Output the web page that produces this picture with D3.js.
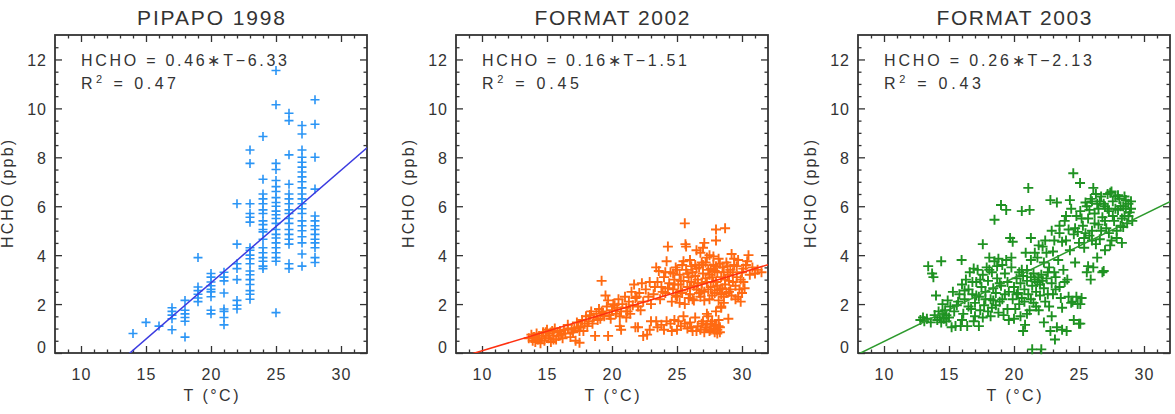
<!DOCTYPE html>
<html>
<head>
<meta charset="utf-8">
<script src="https://cdn.jsdelivr.net/npm/d3@7"></script>
<style>
  body { margin: 0; background: #fff; }
  text { font-family: "Liberation Sans", Arial, sans-serif; fill: #333; }
</style>
</head>
<body>
<svg id="chart" width="1175" height="414"></svg>
<script>
"use strict"

// ---- data ----
const titles = ["PIPAPO  1998", "FORMAT  2002", "FORMAT  2003"];
const slopes = [0.46, 0.16, 0.26];
const intercepts = [-6.33, -1.51, -2.13];
const rSquared = ["0.47", "0.45", "0.43"];
const xTicks = [10, 15, 20, 25, 30];
const yTicks = [0, 2, 4, 6, 8, 10, 12];
const markerColors = ["#2b95f5", "#ff6a12", "#1f9222"];
const lineColors = ["#3b3be0", "#ff3010", "#2d9a2d"];

// PIPAPO 1998: temperatures are whole degrees, one column of HCHO values per degree
const pipapoTemps = [14, 15, 16, 17, 18, 19, 20, 21, 22, 23, 24, 25, 26, 27, 28];
const pipapoHcho = [
  [0.8],
  [1.25],
  [1.1],
  [1.85, 1.7, 1.55, 1.4, 0.95],
  [2.15, 1.75, 1.6, 1.45, 1.3, 0.65],
  [3.9, 2.7, 2.55, 2.4, 2.25, 2.1],
  [3.25, 3.1, 2.9, 2.75, 2.6, 2.5, 2.3, 1.75, 1.6],
  [3.3, 3.1, 2.95, 2.45, 1.8, 1.7, 1.45, 1.15],
  [6.1, 4.45, 3.65, 3.45, 3.0, 2.15, 1.95, 1.8],
  [8.3, 7.75, 6.1, 5.7, 5.55, 5.35, 4.3, 4.2, 4.0, 3.85, 3.65, 3.35, 3.2, 3.0, 2.8, 2.55, 2.4, 2.2],
  [8.85, 7.1, 6.5, 6.3, 6.1, 5.85, 5.7, 5.4, 5.25, 5.05, 4.95, 4.65, 4.3, 4.1, 3.9, 3.75, 3.55, 3.45],
  [11.55, 10.15, 7.75, 7.5, 7.05, 6.8, 6.6, 6.35, 6.15, 6.0, 5.8, 5.65, 5.5, 5.3, 5.05, 4.85, 4.7, 4.5, 4.3, 4.1, 3.9, 3.75, 1.65],
  [9.8, 9.5, 8.1, 6.9, 6.5, 6.3, 6.1, 5.85, 5.7, 5.5, 5.3, 5.05, 4.85, 4.65, 4.45, 3.65, 3.45],
  [9.3, 8.95, 8.3, 8.0, 7.8, 7.6, 7.4, 7.2, 7.0, 6.75, 6.5, 6.3, 6.1, 5.9, 5.7, 5.4, 5.2, 5.0, 4.75, 4.5, 4.05, 3.55],
  [10.35, 9.35, 8.0, 6.7, 5.6, 5.4, 5.2, 5.05, 4.85, 4.65, 4.5, 4.3, 3.9, 3.7]
];

// FORMAT 2002: [T, HCHO]
const format2002 = [
  [13.6,0.6],[13.8,0.75],[13.9,0.5],[14.0,0.65],[14.1,0.45],[14.2,0.8],[14.3,0.55],[14.4,0.7],[14.5,0.4],[14.6,0.6],
  [14.7,0.85],[14.8,0.5],[14.9,0.7],[15.0,0.95],[15.1,0.6],[15.2,0.8],[15.3,0.45],[15.4,0.9],[15.5,0.7],[15.6,1.0],
  [15.7,0.55],[15.8,0.85],[15.9,0.7],[16.0,0.9],[16.2,0.6],[16.4,0.8],[16.6,1.0],[16.8,0.65],[17.0,0.85],[17.2,0.5],
  [17.4,1.05],[17.5,0.42],[17.8,0.9],[17.9,1.2],[16.3,0.95],[16.6,1.15],[17.1,1.0],[17.3,1.25],[17.5,0.9],[17.7,1.35],
  [18.1,1.1],[18.3,1.55],[18.5,1.2],[18.9,1.35],[19.2,1.7],[19.4,1.5],[19.9,1.4],[20.2,1.95],[20.6,1.5],[21.2,1.7],
  [21.9,2.3],[22.2,1.75],[14.2,0.6],[14.9,0.85],[15.5,0.55],[16.1,0.75],[16.9,0.95],[17.6,1.1],
  [18.0,1.5],[18.2,1.3],[18.4,1.7],[18.6,1.45],[18.8,1.6],[19.0,1.8],[19.1,1.4],[19.2,2.95],[19.3,1.65],[19.5,2.35],
  [19.6,1.9],[19.7,2.15],[19.8,1.55],[20.0,1.75],[20.1,2.0],[20.3,1.6],[20.4,1.85],[20.5,2.2],[20.7,1.7],[20.8,2.0],
  [21.0,2.3],[21.1,1.85],[21.3,2.1],[21.4,1.6],[21.5,2.5],[21.6,1.95],[21.7,2.8],[21.8,2.25],[22.0,1.9],[22.1,2.45],
  [22.3,2.85],[22.4,2.1],[22.6,2.6],[22.8,2.3],[23.0,2.0],
  [19.7,0.7],[18.7,0.7],[21.1,1.45],[20.6,1.1],[20.7,0.95],[21.8,1.05],[22.0,1.05],[22.4,0.7],[22.7,0.75],[23.8,1.15],
  [23.2,2.4],[23.4,3.5],[23.5,2.9],[23.6,3.35],[23.7,2.2],[23.8,2.7],[24.0,3.1],[24.1,2.45],[24.2,3.75],[24.3,4.35],
  [24.4,2.85],[24.5,3.3],[24.6,2.1],[24.7,2.6],[24.8,3.0],[24.9,3.5],[22.9,2.9],[23.3,2.7],[23.9,2.5],[24.1,3.3],
  [24.3,2.65],[24.8,2.8],
  [25.0,2.3],[25.1,2.8],[25.2,3.2],[25.3,2.55],[25.4,3.6],[25.5,2.95],[25.6,5.3],[25.65,4.45],[25.7,4.35],[25.6,2.0],
  [25.7,3.4],[25.8,2.7],[25.9,3.1],[26.0,2.4],[26.0,3.8],[26.1,2.9],[26.2,3.3],[26.3,2.15],[26.4,3.6],[26.5,4.2],
  [26.5,2.6],[26.6,3.0],[26.7,3.5],[26.8,4.1],[26.8,2.3],[26.9,2.85],
  [27.0,3.25],[27.0,4.3],[27.1,4.5],[27.1,2.5],[27.2,3.7],[27.3,2.9],[27.4,3.4],[27.5,2.2],[27.5,4.0],[27.6,2.7],
  [27.7,3.1],[27.8,3.6],[27.9,2.45],[28.0,4.6],[28.0,5.05],[28.0,2.9],[28.1,3.3],[28.2,3.85],[28.3,2.6],[28.4,1.85],
  [28.4,3.1],[28.5,3.5],[28.6,2.3],[28.7,5.1],[28.7,2.8],[28.8,3.7],[28.9,3.2],[28.95,1.4],
  [29.0,2.5],[29.1,3.4],[29.2,4.05],[29.3,2.9],[29.4,3.6],[29.5,2.2],[29.6,3.1],[29.7,3.8],[29.8,2.6],[29.9,2.1],
  [30.0,3.3],[30.1,2.9],[30.3,3.6],[30.4,3.75],[30.5,4.0],[30.6,3.2],[30.8,3.5],[31.0,3.25],[31.2,3.4],[31.5,3.3],
  [25.2,2.05],[25.4,2.45],[25.5,3.75],[25.9,2.25],[26.1,3.55],[26.3,2.75],[26.4,3.15],[26.7,2.45],[26.9,3.7],[27.1,2.15],
  [27.2,3.05],[27.3,3.9],[27.4,2.6],[27.6,3.45],[27.7,2.35],[27.8,2.9],[28.0,3.55],[28.1,2.55],[28.2,2.15],[28.3,3.65],
  [28.5,2.65],[28.6,3.3],[28.8,2.45],[28.9,3.55],[29.0,2.95],[29.2,2.35],[29.3,3.3],[29.5,2.75],[29.6,3.55],[29.7,2.3],
  [29.9,3.0],[30.1,3.45],[30.2,2.65],[24.7,3.25],[24.9,2.35],[25.0,3.4],[25.3,2.95],[25.8,3.25],[26.0,2.7],[26.2,2.2],
  [26.5,3.45],[26.6,2.85],[26.9,2.55],[27.0,3.6],[27.5,3.2],[27.8,3.95],[27.9,3.35],[28.1,2.75],[28.4,2.4],[28.6,2.05],
  [28.7,3.0],[29.1,2.6],[29.4,3.85],[30.0,2.45],
  [23.0,1.3],[23.5,1.05],[24.0,0.95],[24.5,1.2],[24.8,1.35],[25.0,0.95],[25.3,1.1],[25.5,1.5],[25.8,1.0],[26.0,1.25],
  [26.2,0.9],[26.4,1.45],[26.6,1.1],[26.8,0.95],[27.0,1.3],[27.2,1.05],[27.4,1.5],[27.5,0.9],[27.6,1.2],[27.8,1.0],
  [27.9,0.85],[28.0,1.15],[28.1,0.95],[28.2,1.35],[28.3,1.05],[28.4,1.9],[28.0,1.7],[27.3,1.6],
  [26.9,1.2],[27.1,0.85],[27.3,1.15],[27.6,0.95],[27.7,1.3],[27.9,1.1],[28.1,0.8],[28.2,1.1],[28.3,0.85],[26.5,0.9],
  [26.1,1.05],[25.6,1.2],[25.1,1.3],[24.6,0.9],[24.2,1.3],[23.4,1.3],[22.9,0.95]
];

// FORMAT 2003: [T, HCHO]
const format2003 = [
  [12.8,1.35],[13.0,1.45],[13.1,1.3],[13.3,1.4],[13.4,3.55],[13.7,3.25],[13.8,3.1],[13.6,1.25],[13.9,1.55],[14.0,2.35],
  [14.1,1.35],[14.2,1.7],[14.3,1.45],[14.4,3.75],[14.4,1.25],[14.5,1.6],[14.5,2.0],[14.6,1.4],[14.7,1.75],[14.8,1.3],
  [14.8,1.55],[14.9,2.15],[15.0,1.45],[15.1,1.9],[15.2,1.05],[15.3,2.5],[15.5,1.1],[15.6,1.95],[15.8,2.4],[15.9,1.1],
  [15.97,3.8],
  [16.0,2.8],[16.1,1.6],[16.2,2.2],[16.3,3.0],[16.4,1.1],[16.5,2.6],[16.6,3.3],[16.7,1.8],[16.8,2.4],[16.9,3.45],
  [17.0,2.05],[17.0,1.5],[17.1,2.9],[17.2,3.4],[17.3,1.1],[17.3,2.3],[17.4,1.75],[17.5,2.7],[17.6,4.45],[17.6,3.2],
  [17.7,1.95],[17.8,2.5],[17.9,3.5],[18.0,1.7],[18.0,2.95],[18.1,3.9],[18.2,2.2],[18.3,1.85],[18.3,3.3],[18.4,2.65],
  [18.5,5.45],[18.5,3.75],[18.6,1.95],[18.6,2.45],[18.7,3.05],[18.8,3.85],[18.9,2.1],[19.0,6.05],[19.0,2.75],[19.1,3.6],
  [19.2,1.55],[19.3,2.4],[19.4,5.85],[19.4,3.8],[19.5,2.9],[19.6,1.35],[19.7,4.7],[19.8,3.9],[19.9,2.2],[19.9,4.55],
  [15.4,1.7],[15.7,2.1],[16.0,1.35],[16.2,2.55],[16.5,1.9],[16.8,2.9],[16.9,1.3],[17.1,2.35],[17.4,3.0],[17.6,1.45],
  [17.8,2.2],[18.1,3.4],[18.2,1.5],[18.4,2.15],[18.7,3.55],[18.8,1.65],[18.9,2.85],[19.1,2.2],[19.3,3.25],[19.5,1.8],
  [19.6,2.5],[19.8,3.5],[20.0,1.4],[20.2,2.4],[20.4,2.0],[20.6,3.4],[20.8,2.1],[21.0,1.6],[21.0,3.4],[21.3,2.2],
  [21.5,3.25],[21.7,1.9],[21.9,3.1],[22.0,2.35],[22.2,2.95],[22.4,2.1],[22.6,3.3],[22.7,1.9],[23.0,2.4],[23.2,3.1],
  [23.5,2.7],[23.7,1.85],[23.9,2.9],[24.2,2.3],[24.4,2.05],[24.8,2.3],[25.0,1.2],[25.1,2.0],
  [20.0,2.7],[20.1,1.8],[20.2,3.05],[20.3,2.45],[20.4,3.3],[20.5,1.5],[20.5,2.85],[20.6,5.8],[20.6,2.25],[20.7,0.9],
  [20.7,3.15],[20.8,2.6],[20.85,1.15],[20.9,4.1],[21.0,2.95],[21.1,6.75],[21.1,2.4],[21.2,5.85],[21.2,1.75],[21.3,3.1],
  [21.3,4.7],[21.4,0.15],[21.4,2.75],[21.5,2.05],[21.6,3.0],[21.7,2.5],[21.8,2.9],[21.8,3.9],[21.9,1.75],[22.0,2.8],
  [22.1,0.15],[22.1,3.2],[22.2,4.35],[22.3,1.25],[22.3,2.65],[22.4,4.6],[22.5,3.05],[22.6,2.4],[22.7,3.5],[22.8,6.25],
  [22.8,0.9],[22.9,1.5],[22.9,2.85],[23.0,4.15],[23.1,3.3],[23.15,0.55],[23.2,2.6],[23.3,6.15],[23.3,1.05],[23.4,3.8],
  [23.5,4.9],[23.6,2.25],[23.7,0.95],[23.8,3.4],[23.9,5.4],
  [24.0,4.6],[24.05,0.9],[24.1,3.0],[24.2,5.05],[24.3,4.2],[24.4,5.9],[24.5,2.1],[24.56,7.35],[24.6,1.35],[24.6,4.85],
  [24.7,3.7],[24.8,5.6],[24.9,2.0],[25.0,4.5],[25.08,6.95],[25.1,1.2],[25.1,5.8],[25.2,2.25],[25.3,5.2],[25.4,4.3],
  [25.5,6.15],[25.6,3.3],[25.7,3.55],[25.7,5.5],[25.8,4.8],[25.9,6.3],[26.0,5.0],[26.1,6.75],[26.1,3.5],[26.2,5.7],
  [26.3,4.45],[26.4,6.1],[26.5,5.25],[26.6,4.65],[26.7,6.4],[26.8,3.3],[26.8,5.55],[26.9,3.35],[27.0,6.0],[27.0,4.2],
  [27.1,5.1],[27.2,6.5],[27.3,5.8],[27.4,6.55],[27.5,4.6],[27.6,6.2],[27.7,5.4],[27.8,6.4],[27.9,5.0],[28.0,5.85],
  [28.1,6.3],[28.2,5.2],[28.3,4.5],[28.4,6.0],[28.5,5.6],[28.6,6.25],[28.7,5.3],[28.8,6.1],[28.9,5.75],[29.0,6.2],
  [29.1,5.4],
  [24.9,4.95],[25.2,5.5],[25.4,4.7],[25.6,6.0],[25.8,5.85],[26.0,4.6],[26.0,6.2],[26.2,5.3],[26.3,6.5],[26.5,5.9],
  [26.6,6.2],[26.7,5.0],[26.9,6.1],[27.0,5.4],[27.2,5.9],[27.3,4.9],[27.5,6.6],[27.6,5.6],[27.8,5.9],[28.0,6.45],
  [28.2,6.0],[28.3,5.5],[28.5,6.4],[28.6,5.9],[28.8,5.6],[29.0,5.9],[28.4,5.15],[27.9,4.7],[27.4,4.4],[26.4,3.9],
  [25.9,3.0],[25.5,4.9],[24.7,5.1],[24.3,6.25],[24.0,5.6],[23.7,4.55],[23.5,5.2],[23.1,4.6],[22.9,5.0],[22.5,4.1],
  [22.3,3.7],[21.9,4.4],[21.6,4.1],[21.3,3.8]
];

// ---- layout ----
const panelLeft = [55, 456, 858];
const panelWidth = 312;
const plotTop = 35;
const plotBottom = 353;
const xDomain = [8, 32];
const yDomain = [0, 13];
const titleWidths = [148, 155, 155];
const eqWidths = [206, 205, 208];
const r2Widths = [95, 97, 97];

const pipapo = [];
pipapoTemps.forEach((t, i) => pipapoHcho[i].forEach(h => pipapo.push([t, h])));
const datasets = [pipapo, format2002, format2003];

const svg = d3.select("#chart");
const axisColor = "#333";

function styleAxis(sel) {
    sel.select(".domain").remove();
    sel.selectAll("line").attr("stroke", axisColor).attr("stroke-width", 1.3);
}

datasets.forEach((points, i) => {
    const left = panelLeft[i];
    const x = d3.scaleLinear().domain(xDomain).range([left, left + panelWidth]);
    const y = d3.scaleLinear().domain(yDomain).range([plotBottom, plotTop]);
    const g = svg.append("g");

    // clip for the fit line
    const clipId = "clip" + i;
    svg.append("clipPath").attr("id", clipId)
        .append("rect")
        .attr("x", left).attr("y", plotTop)
        .attr("width", panelWidth).attr("height", plotBottom - plotTop);

    // minor ticks, all four sides, pointing inward
    const minorX = d3.range(9, 32, 1).filter(v => v % 5 !== 0);
    const minorY = d3.range(0.5, 13, 0.5).filter(v => v % 2 !== 0);

    g.append("g").attr("transform", `translate(0,${plotBottom})`)
        .call(d3.axisBottom(x).tickValues(minorX).tickSize(-3.5).tickFormat(""))
        .call(styleAxis);
    g.append("g").attr("transform", `translate(0,${plotTop})`)
        .call(d3.axisTop(x).tickValues(minorX).tickSize(-3.5).tickFormat(""))
        .call(styleAxis);
    g.append("g").attr("transform", `translate(${left},0)`)
        .call(d3.axisLeft(y).tickValues(minorY).tickSize(-3.5).tickFormat(""))
        .call(styleAxis);
    g.append("g").attr("transform", `translate(${left + panelWidth},0)`)
        .call(d3.axisRight(y).tickValues(minorY).tickSize(-3.5).tickFormat(""))
        .call(styleAxis);

    // major ticks
    const bottomAxis = g.append("g").attr("transform", `translate(0,${plotBottom})`)
        .call(d3.axisBottom(x).tickValues(xTicks).tickSize(-7).tickPadding(0))
        .call(styleAxis);
    bottomAxis.selectAll("text")
        .attr("y", 27).attr("dy", null)
        .attr("fill", "#333")
        .style("font-size", "16px").style("letter-spacing", "1px")
        .style("font-family", "'Liberation Sans', Arial, sans-serif");

    g.append("g").attr("transform", `translate(0,${plotTop})`)
        .call(d3.axisTop(x).tickValues(xTicks).tickSize(-7).tickFormat(""))
        .call(styleAxis);

    const leftAxis = g.append("g").attr("transform", `translate(${left},0)`)
        .call(d3.axisLeft(y).tickValues(yTicks).tickSize(-7))
        .call(styleAxis);
    leftAxis.selectAll("text")
        .attr("x", -8).attr("dy", null)
        .attr("y", d => d === 0 ? -1 : 6)
        .attr("fill", "#333")
        .style("font-size", "16px").style("letter-spacing", "1px")
        .style("font-family", "'Liberation Sans', Arial, sans-serif");

    g.append("g").attr("transform", `translate(${left + panelWidth},0)`)
        .call(d3.axisRight(y).tickValues(yTicks).tickSize(-7).tickFormat(""))
        .call(styleAxis);

    // frame
    g.append("rect")
        .attr("x", left).attr("y", plotTop)
        .attr("width", panelWidth).attr("height", plotBottom - plotTop)
        .attr("fill", "none").attr("stroke", axisColor).attr("stroke-width", 1.8);

    // data markers (plus signs)
    const arm = i === 0 ? 4.5 : 5;
    g.append("g").selectAll("path").data(points).enter().append("path")
        .attr("transform", d => `translate(${x(d[0])},${y(d[1])})`)
        .attr("d", `M-${arm},0H${arm}M0,-${arm}V${arm}`)
        .attr("stroke", markerColors[i])
        .attr("stroke-width", i === 0 ? 1.6 : 1.9)
        .attr("fill", "none");

    // fit line
    const fit = d3.line().x(t => x(t)).y(t => y(slopes[i] * t + intercepts[i]));
    g.append("path")
        .attr("clip-path", `url(#${clipId})`)
        .attr("d", fit(xDomain))
        .attr("stroke", lineColors[i])
        .attr("stroke-width", 1.5)
        .attr("fill", "none");

    // title
    g.append("text")
        .attr("x", left + panelWidth / 2).attr("y", 25)
        .attr("text-anchor", "middle")
        .attr("textLength", titleWidths[i]).attr("lengthAdjust", "spacing")
        .style("font-size", "21px")
        .text(titles[i]);

    // regression text
    const sign = intercepts[i] < 0 ? "\u2212" : "+";
    g.append("text")
        .attr("x", left + 26).attr("y", 66)
        .attr("textLength", eqWidths[i]).attr("lengthAdjust", "spacing")
        .style("font-size", "16px")
        .text(`HCHO = ${slopes[i].toFixed(2)}\u2217T${sign}${Math.abs(intercepts[i]).toFixed(2)}`);

    const r2 = g.append("text")
        .attr("x", left + 26).attr("y", 89)
        .attr("textLength", r2Widths[i]).attr("lengthAdjust", "spacing")
        .style("font-size", "16px");
    r2.append("tspan").text("R");
    r2.append("tspan").attr("dy", -6).style("font-size", "11px").text("2");
    r2.append("tspan").attr("dy", 6).text(" = " + rSquared[i]);

    // axis titles
    g.append("text")
        .attr("x", left + panelWidth / 2).attr("y", 401)
        .attr("text-anchor", "middle")
        .attr("textLength", 55).attr("lengthAdjust", "spacing")
        .style("font-size", "16px")
        .text("T (\u00B0C)");

    g.append("text")
        .attr("transform", `translate(${left - 42},${(plotTop + plotBottom) / 2}) rotate(-90)`)
        .attr("text-anchor", "middle")
        .attr("textLength", 108).attr("lengthAdjust", "spacing")
        .style("font-size", "16px")
        .text("HCHO (ppb)");
});
</script>
</body>
</html>
